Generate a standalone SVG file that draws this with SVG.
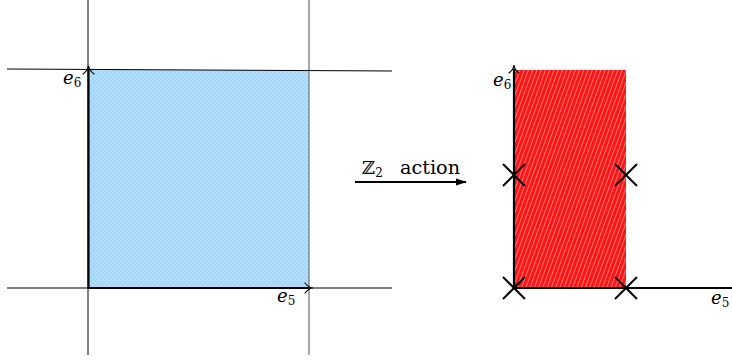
<svg xmlns="http://www.w3.org/2000/svg" width="732" height="360" viewBox="0 0 732 360">
<style>
.thin{stroke:#000;stroke-width:1;fill:none}
.gray{stroke:#777;stroke-width:1.3;fill:none}
.thick{stroke:#000;stroke-width:2.2;fill:none}
.x{stroke:#000;stroke-width:2;fill:none}
.lab{font-family:'DejaVu Serif','Liberation Serif',serif;font-size:18px;fill:#000}
.sub{font-size:12px}
.head{stroke:#000;stroke-width:1.2;fill:none;stroke-linecap:round}
</style>
<defs>
<pattern id="blue" width="4" height="4" patternUnits="userSpaceOnUse">
<rect width="4" height="4" fill="#a3d6fb"/>
<rect width="2" height="2" fill="#b3defd"/>
<rect x="2" y="2" width="2" height="2" fill="#b3defd"/>
</pattern>
<pattern id="red" width="4" height="4" patternUnits="userSpaceOnUse" patternTransform="rotate(20)">
<rect width="4" height="4" fill="#ff1414"/>
<rect width="1" height="4" fill="#ff7a7a"/>
</pattern>
<marker id="arr" markerWidth="12" markerHeight="10" refX="10" refY="5" orient="auto" markerUnits="userSpaceOnUse">
<path d="M0,1.5 L11,5 L0,8.5 Z" fill="#000"/>
</marker>
</defs>
<g id="left-panel">
<rect id="blue-square" x="88" y="70" width="221" height="218" fill="url(#blue)"/>
<line class="thin" x1="88" y1="0" x2="88" y2="355"/>
<line class="gray" x1="309" y1="0" x2="309" y2="355"/>
<line class="thin" x1="7" y1="69" x2="392" y2="71"/>
<line class="thin" x1="7" y1="288" x2="392" y2="288"/>
<line class="thick" x1="88.5" y1="288" x2="88.5" y2="70"/>
<line class="thick" x1="88" y1="288" x2="309" y2="288"/>
<path class="head" d="M83,74 Q88,70 88.5,66 Q89,70 94,74"/>
<path class="head" d="M305,283 Q309,288 313,288 Q309,288 305,293"/>
<text class="lab" x="63" y="84" font-style="italic">e<tspan class="sub" dy="3" font-style="normal">6</tspan></text>
<text class="lab" x="277" y="302" font-style="italic">e<tspan class="sub" dy="3" font-style="normal">5</tspan></text>
</g>
<g id="connectors">
<line x1="355" y1="182" x2="466" y2="182" stroke="#000" stroke-width="2" marker-end="url(#arr)"/>
<text class="lab" x="362" y="174">ℤ<tspan class="sub" dy="3">2</tspan><tspan x="400" dy="-3" textLength="60" lengthAdjust="spacingAndGlyphs">action</tspan></text>
</g>
<g id="right-panel">
<rect id="red-rect" x="515" y="70" width="111" height="218" fill="url(#red)"/>
<line class="thick" x1="514" y1="289" x2="514" y2="69"/>
<line class="thick" x1="514" y1="288" x2="732" y2="288"/>
<path class="head" d="M509,73 Q514,69 514,65 Q514,69 519,73"/>
<text class="lab" x="493" y="86" font-style="italic">e<tspan class="sub" dy="3" font-style="normal">6</tspan></text>
<text class="lab" x="711" y="304" font-style="italic">e<tspan class="sub" dy="3" font-style="normal">5</tspan></text>
<path class="x" d="M503,164 L525,186 M525,164 L503,186"/>
<path class="x" d="M615,164 L637,186 M637,164 L615,186"/>
<path class="x" d="M503,277 L525,299 M525,277 L503,299"/>
<path class="x" d="M615,277 L637,299 M637,277 L615,299"/>
</g>
</svg>
